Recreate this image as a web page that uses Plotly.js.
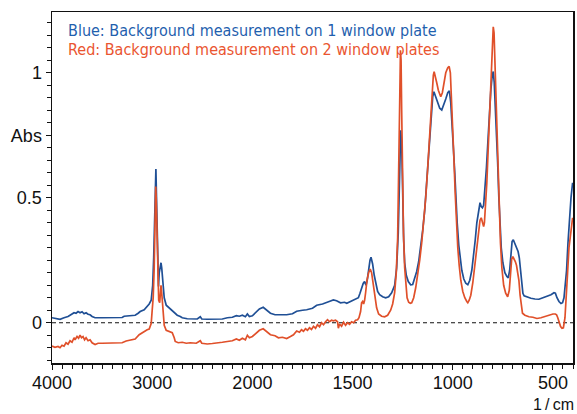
<!DOCTYPE html>
<html>
<head>
<meta charset="utf-8">
<script src="https://cdn.plot.ly/plotly-3.0.1.min.js"></script>
<style>
  html, body { margin: 0; padding: 0; background: #fff; }
  #chart { width: 577px; height: 414px; }
</style>
</head>
<body>
<div id="chart"></div>
<script>
// IR absorbance spectra, wavenumber (1/cm) vs absorbance.
// Blue: background measured on 1 window plate
const blueWn = [4000,3960,3920,3880,3840,3800,3780,3760,3740,3720,3700,3680,3660,3640,3620,3600,3570,3500,3400,3300,3280,3200,3170,3140,3120,3080,3053,3030,3010,2995,2985,2975,2968,2963,2958,2950,2945,2940,2937,2930,2920,2912,2905,2895,2880,2860,2840,2820,2800,2770,2750,2720,2700,2650,2600,2550,2520,2505,2450,2400,2350,2300,2250,2200,2160,2130,2100,2070,2050,2030,2000,1985,1965,1946,1930,1910,1887,1860,1829,1800,1779,1750,1729,1700,1679,1650,1629,1610,1596,1580,1560,1540,1529,1510,1490,1471,1463,1455,1447,1440,1433,1427,1420,1413,1408,1400,1392,1385,1375,1365,1350,1335,1320,1305,1290,1280,1272,1265,1260,1255,1250,1245,1240,1232,1222,1210,1200,1190,1180,1170,1160,1150,1140,1130,1122,1115,1108,1100,1094,1085,1075,1065,1055,1045,1035,1025,1017,1010,1003,997,990,985,978,970,962,955,945,935,925,915,905,895,888,880,872,864,858,852,846,840,832,825,818,810,803,798,793,788,782,776,770,764,758,750,740,730,723,716,710,704,698,692,686,680,674,668,662,656,650,644,630,610,590,570,550,530,510,495,488,480,470,460,452,445,438,432,425,418,410,402];
const blueAbs = [0.020,0.018,0.014,0.020,0.025,0.035,0.040,0.038,0.045,0.040,0.044,0.036,0.040,0.034,0.032,0.025,0.020,0.020,0.020,0.021,0.026,0.028,0.030,0.038,0.045,0.052,0.065,0.075,0.090,0.15,0.26,0.40,0.55,0.615,0.52,0.40,0.30,0.18,0.145,0.20,0.235,0.24,0.22,0.17,0.10,0.07,0.062,0.055,0.048,0.038,0.030,0.025,0.020,0.016,0.015,0.015,0.024,0.015,0.014,0.014,0.015,0.015,0.020,0.022,0.028,0.026,0.030,0.024,0.035,0.025,0.028,0.040,0.055,0.062,0.050,0.038,0.032,0.032,0.032,0.036,0.046,0.050,0.052,0.058,0.070,0.075,0.080,0.087,0.091,0.088,0.080,0.082,0.078,0.085,0.090,0.100,0.118,0.140,0.157,0.165,0.150,0.170,0.220,0.250,0.262,0.235,0.190,0.160,0.125,0.112,0.104,0.100,0.104,0.120,0.150,0.22,0.36,0.60,0.77,0.72,0.50,0.33,0.24,0.19,0.165,0.152,0.153,0.175,0.205,0.245,0.30,0.37,0.45,0.56,0.66,0.75,0.83,0.905,0.924,0.905,0.88,0.858,0.851,0.87,0.895,0.92,0.928,0.88,0.80,0.70,0.60,0.50,0.40,0.31,0.25,0.21,0.175,0.158,0.152,0.17,0.21,0.27,0.33,0.40,0.45,0.48,0.465,0.46,0.47,0.53,0.62,0.72,0.83,0.93,0.99,1.005,0.96,0.88,0.77,0.64,0.50,0.38,0.30,0.24,0.20,0.185,0.18,0.21,0.29,0.325,0.332,0.320,0.310,0.296,0.285,0.26,0.21,0.15,0.118,0.108,0.103,0.098,0.095,0.094,0.100,0.105,0.112,0.120,0.118,0.100,0.085,0.077,0.080,0.10,0.15,0.21,0.32,0.42,0.50,0.56];

// Red: background measured on 2 window plates
const redWn = [4000,3970,3940,3920,3900,3880,3860,3840,3820,3800,3780,3770,3750,3735,3720,3705,3690,3675,3660,3640,3620,3600,3570,3540,3500,3400,3300,3260,3200,3170,3130,3100,3070,3050,3030,3010,3000,2990,2980,2975,2968,2965,2960,2955,2950,2945,2940,2935,2925,2918,2912,2905,2898,2890,2880,2860,2840,2820,2800,2780,2770,2740,2700,2660,2620,2560,2520,2505,2450,2400,2350,2300,2250,2200,2160,2130,2100,2070,2050,2030,2000,1980,1965,1946,1930,1910,1887,1870,1850,1829,1810,1795,1779,1765,1755,1745,1735,1725,1715,1705,1695,1685,1675,1665,1655,1645,1635,1625,1615,1605,1596,1585,1575,1571,1565,1555,1545,1535,1525,1515,1505,1495,1485,1475,1468,1460,1455,1450,1445,1440,1435,1428,1420,1412,1405,1398,1390,1380,1370,1355,1340,1325,1310,1300,1290,1282,1275,1270,1266,1263,1261,1258,1255,1251,1246,1240,1234,1228,1220,1212,1205,1195,1185,1175,1165,1155,1145,1135,1125,1115,1108,1102,1097,1093,1088,1080,1072,1065,1060,1052,1045,1035,1025,1018,1012,1006,1000,994,988,982,975,968,960,950,940,930,925,918,910,900,892,885,878,870,864,858,852,846,842,836,830,824,818,812,806,801,798,794,790,786,780,774,768,762,755,746,736,726,718,712,706,700,694,688,682,676,670,664,658,652,640,620,600,580,560,540,520,500,488,482,476,470,462,455,448,440,433,427,420,412,402];
const redAbs = [-0.093,-0.098,-0.095,-0.100,-0.090,-0.094,-0.080,-0.086,-0.072,-0.078,-0.060,-0.068,-0.055,-0.062,-0.050,-0.060,-0.055,-0.068,-0.060,-0.072,-0.068,-0.080,-0.087,-0.082,-0.082,-0.082,-0.080,-0.073,-0.068,-0.065,-0.048,-0.040,-0.035,-0.028,-0.025,-0.003,0.05,0.10,0.22,0.36,0.50,0.545,0.50,0.40,0.33,0.22,0.13,0.09,0.08,0.12,0.15,0.12,0.07,0.024,-0.010,-0.030,-0.033,-0.036,-0.040,-0.060,-0.075,-0.080,-0.078,-0.082,-0.080,-0.082,-0.072,-0.082,-0.085,-0.083,-0.082,-0.078,-0.075,-0.072,-0.065,-0.070,-0.062,-0.068,-0.050,-0.060,-0.055,-0.040,-0.030,-0.024,-0.035,-0.048,-0.052,-0.060,-0.058,-0.063,-0.055,-0.048,-0.033,-0.038,-0.028,-0.034,-0.024,-0.030,-0.020,-0.027,-0.014,-0.022,-0.008,-0.016,0.000,-0.008,0.004,0.012,0.004,0.010,0.008,0.010,0.004,-0.022,-0.005,-0.014,0.002,-0.010,0.000,-0.006,0.004,0.000,0.010,0.012,0.020,0.045,0.080,0.085,0.075,0.09,0.12,0.17,0.20,0.215,0.20,0.16,0.11,0.06,0.035,0.026,0.024,0.030,0.050,0.075,0.12,0.20,0.34,0.55,0.80,0.98,1.09,1.05,0.85,0.58,0.36,0.22,0.14,0.10,0.082,0.078,0.080,0.10,0.14,0.19,0.25,0.32,0.40,0.50,0.62,0.76,0.87,0.95,0.99,1.004,0.99,0.96,0.93,0.91,0.904,0.92,0.96,1.00,1.02,1.025,1.00,0.90,0.78,0.65,0.52,0.40,0.30,0.23,0.17,0.125,0.10,0.085,0.080,0.09,0.11,0.16,0.22,0.27,0.32,0.36,0.41,0.42,0.40,0.385,0.40,0.47,0.56,0.68,0.80,0.93,1.05,1.15,1.184,1.16,1.05,0.95,0.80,0.62,0.45,0.32,0.22,0.15,0.118,0.104,0.13,0.20,0.255,0.264,0.255,0.245,0.230,0.20,0.17,0.11,0.06,0.038,0.030,0.024,0.022,0.017,0.020,0.026,0.032,0.035,0.035,0.032,0.020,0.002,-0.015,-0.022,-0.020,0.02,0.10,0.20,0.30,0.36,0.42];

// Axis labels
const xTickWn = [4000, 3000, 2000, 1500, 1000, 500];
const yTickVals = [0, 0.5, 0.75, 1];
const yTickText = ['0', '0.5', 'Abs', '1'];
const legendBlue = 'Blue: Background measurement on 1 window plate';
const legendRed = 'Red: Background measurement on 2 window plates';

// The wavenumber axis is drawn at half scale above 2000 1/cm.
function axisPos(wn) {
  return wn > 2000 ? 2000 + (wn - 2000) / 2 : wn;
}

const tickFont = { family: '"Liberation Sans", Arial, Helvetica, sans-serif', size: 18, color: '#111' };
const noteFont = '"Liberation Sans Narrow", "Arial Narrow", "DejaVu Sans Condensed", sans-serif';

const traces = [
  { x: blueWn.map(axisPos), y: blueAbs, mode: 'lines', line: { color: '#1f4f95', width: 1.7 }, hoverinfo: 'skip' },
  { x: redWn.map(axisPos), y: redAbs, mode: 'lines', line: { color: '#e0502a', width: 1.7 }, hoverinfo: 'skip' }
];

const layout = {
  width: 577, height: 414,
  margin: { l: 52, r: 4, t: 12, b: 51 },
  paper_bgcolor: '#fff', plot_bgcolor: '#fff',
  showlegend: false,
  xaxis: {
    range: [axisPos(4000), 400],
    showgrid: false, zeroline: false,
    showline: true, linecolor: '#111', linewidth: 1.5, mirror: true,
    ticks: 'outside', ticklen: 5, tickcolor: '#111', tickwidth: 1,
    tickmode: 'array', tickvals: xTickWn.map(axisPos), ticktext: xTickWn.map(String),
    tickfont: tickFont, ticklabelstandoff: -2,
    minor: { ticks: 'outside', ticklen: 4, tickcolor: '#111', dtick: 50, tick0: 0, showgrid: false }
  },
  yaxis: {
    range: [-0.161, 1.243],
    showgrid: false, zeroline: false,
    showline: true, linecolor: '#111', linewidth: 1.5, mirror: true,
    ticks: 'outside', ticklen: 5, tickcolor: '#111', tickwidth: 1,
    tickmode: 'array', tickvals: yTickVals, ticktext: yTickText,
    tickfont: tickFont,
    minor: { ticks: 'outside', ticklen: 4, tickcolor: '#111', dtick: 0.05, tick0: 0, showgrid: false }
  },
  shapes: [
    { type: 'line', xref: 'paper', x0: 0, x1: 1, yref: 'y', y0: 0, y1: 0,
      line: { color: '#111', width: 1, dash: '4px,3px' }, layer: 'below' }
  ],
  annotations: [
    { text: legendBlue, xref: 'paper', yref: 'paper', x: 0.026, y: 0.946, xanchor: 'left', yanchor: 'middle',
      showarrow: false, font: { family: noteFont, size: 16, color: '#1f5fae' } },
    { text: legendRed, xref: 'paper', yref: 'paper', x: 0.026, y: 0.892, xanchor: 'left', yanchor: 'middle',
      showarrow: false, font: { family: noteFont, size: 16, color: '#ea5530' } },
    { text: '1\u2009/\u2009cm', xref: 'paper', yref: 'paper', x: 1.004, y: -0.1453, xanchor: 'right', yanchor: 'bottom',
      showarrow: false, borderpad: 0, font: { family: tickFont.family, size: 16, color: '#111' } }
  ]
};

Plotly.newPlot('chart', traces, layout, { staticPlot: true, displayModeBar: false });
</script>
</body>
</html>
